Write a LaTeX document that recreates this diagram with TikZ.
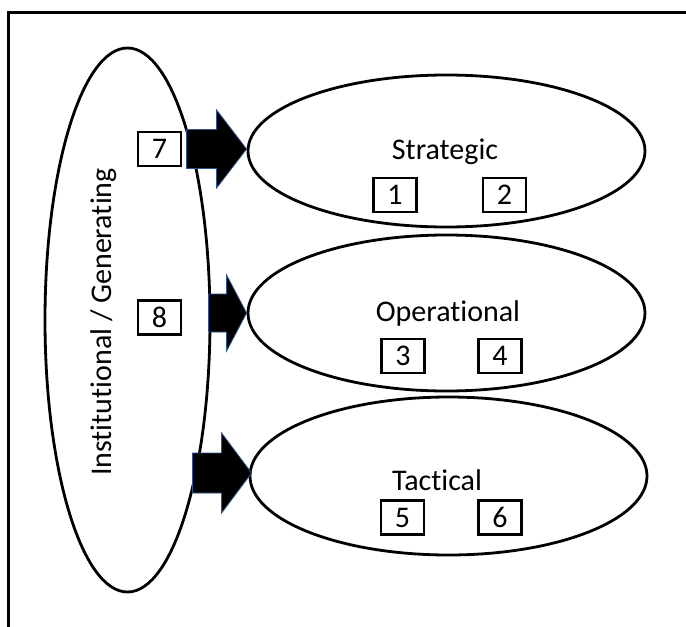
\documentclass[tikz,border=0pt]{standalone}
\usepackage{fontspec}
\setmainfont{Carlito}[Ligatures={NoCommon}]
\usetikzlibrary{calc,shapes.geometric}
\definecolor{arrowedge}{HTML}{2F528F}
\begin{document}
\begin{tikzpicture}[x=1pt,y=-1pt,
  oval/.style={draw=black,line width=2.8pt,ellipse,inner sep=0pt},
  numbox/.style={draw=black,line width=2.8pt,minimum width=43pt,minimum height=34pt,inner sep=0pt,font=\fontsize{30}{30}\selectfont},
  lbl/.style={font=\fontsize{30}{30}\selectfont,inner sep=0pt},
  blockarrow/.style={fill=black,draw=arrowedge,line width=0.8pt,line join=miter}]
\useasboundingbox (0,0) rectangle (686,627);
\draw[line width=3pt] (8,700) -- (8,12) -- (720,12);
% left ellipse
\node[oval,minimum width=165pt,minimum height=544pt] (inst) at (127.5,320) {};
\node[lbl,rotate=90] (instlbl) at (104,322) {Institutional / Generating};
% right ellipses
\node[oval,minimum width=397pt,minimum height=152pt] (strat) at (446.5,151) {};
\node[oval,minimum width=397pt,minimum height=156pt] (oper) at (446.5,313) {};
\node[oval,minimum width=397pt,minimum height=158pt] (tact) at (448.5,476) {};
% labels
\node[lbl] (stratlbl) at (445,152) {Strategic};
\node[lbl] (operlbl) at (448,313) {Operational};
\node[lbl] (tactlbl) at (437,480) {Tactical};
% number boxes
\node[numbox] (b1) at (395,195) {1};
\node[numbox] (b2) at (504.5,195) {2};
\node[numbox] (b3) at (403,356) {3};
\node[numbox] (b4) at (500,356) {4};
\node[numbox] (b5) at (402.5,517.5) {5};
\node[numbox] (b6) at (500,517.5) {6};
\node[numbox] (b7) at (159.5,149) {7};
\node[numbox] (b8) at (159.5,317.5) {8};
% block arrows (tip at west of each right ellipse)
\coordinate (t1) at ($(strat.west)+(0,-2)$);
\coordinate (t2) at (oper.west);
\coordinate (t3) at ($(tact.west)+(3,-3)$);
\draw[blockarrow] (t1) -- ++(-30,-39) -- ++(0,19.5) -- ++(-30,0) -- ++(0,39) -- ++(30,0) -- ++(0,19.5) -- cycle;
\draw[blockarrow] (t2) -- ++(-20,-38) -- ++(0,19) -- ++(-18,0) -- ++(0,38) -- ++(18,0) -- ++(0,19) -- cycle;
\draw[blockarrow] (t3) -- ++(-30,-40) -- ++(0,20) -- ++(-29,0) -- ++(0,40) -- ++(29,0) -- ++(0,20) -- cycle;
\end{tikzpicture}
\end{document}
